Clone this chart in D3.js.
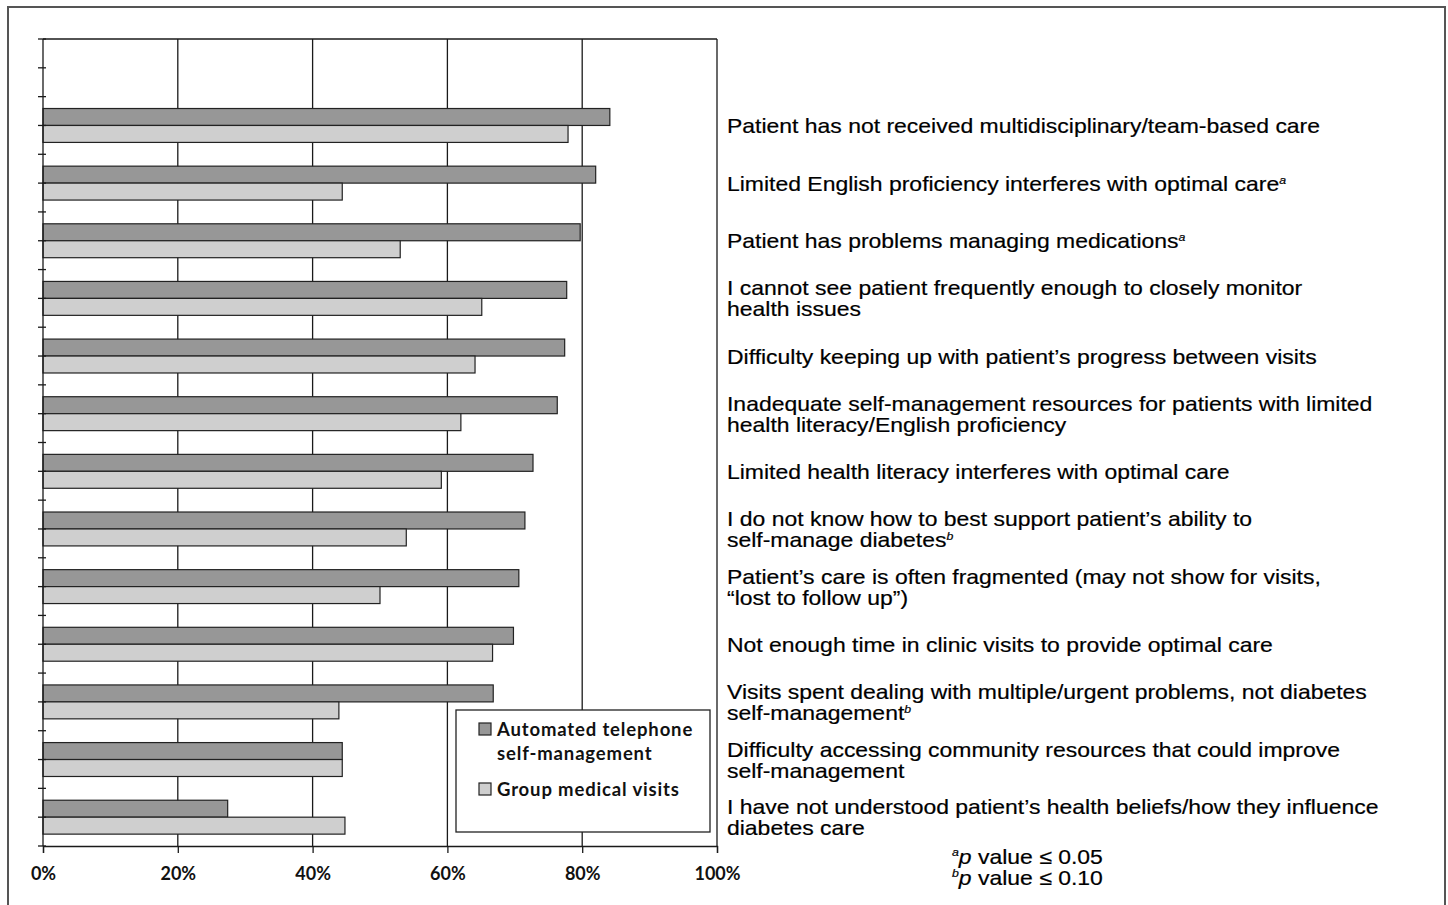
<!DOCTYPE html>
<html>
<head>
<meta charset="utf-8">
<script src="https://cdn.jsdelivr.net/npm/d3@7/dist/d3.min.js"></script>
<style>
  html, body { margin: 0; padding: 0; background: #fff; }
  svg { display: block; }
</style>
</head>
<body>
<svg id="chart" width="1448" height="905"></svg>
<script>
// Barriers to diabetes care, by intervention arm (% of clinicians)
const categories = [
  "Patient has not received multidisciplinary/team-based care",
  "Limited English proficiency interferes with optimal care",
  "Patient has problems managing medications",
  "I cannot see patient frequently enough to closely monitor\nhealth issues",
  "Difficulty keeping up with patient’s progress between visits",
  "Inadequate self-management resources for patients with limited\nhealth literacy/English proficiency",
  "Limited health literacy interferes with optimal care",
  "I do not know how to best support patient’s ability  to\nself-manage diabetes",
  "Patient’s care is often fragmented (may not show for visits,\n“lost to follow up”)",
  "Not enough time in clinic visits to provide optimal care",
  "Visits spent dealing with multiple/urgent problems, not diabetes\nself-management",
  "Difficulty accessing community resources that could improve\nself-management",
  "I have not understood patient’s health beliefs/how they influence\ndiabetes care"
];
// significance markers appended to each label
const footnoteMarks = ["", "a", "a", "", "", "", "", "b", "", "", "b", "", ""];

const seriesNames = ["Automated telephone\nself-management", "Group medical visits"];
const automatedTelephone = [84.1, 82.0, 79.7, 77.7, 77.4, 76.3, 72.7, 71.5, 70.6, 69.8, 66.8, 44.4, 27.4];
const groupMedicalVisits = [77.9, 44.4, 53.0, 65.1, 64.1, 62.0, 59.1, 53.9, 50.0, 66.7, 43.9, 44.4, 44.8];

const xTicks = [0, 20, 40, 60, 80, 100];
const footnotes = [
  { mark: "a", text: " value ≤ 0.05" },
  { mark: "b", text: " value ≤ 0.10" }
];

const svg = d3.select("#chart");
const colors = ["#979797", "#cfcfcf"];

// outer frame
svg.append("rect")
  .attr("x", 8).attr("y", 7).attr("width", 1437).attr("height", 920)
  .attr("fill", "none").attr("stroke", "#555").attr("stroke-width", 2);

const plot = { left: 43, right: 717, top: 39, bottom: 846 };

const x = d3.scaleLinear().domain([0, 100]).range([plot.left, plot.right]);

// an empty slot sits above the first category
const slots = ["__blank__"].concat(categories);
const y = d3.scaleBand().domain(slots).range([plot.top, plot.bottom]).paddingInner(0).paddingOuter(0);
const ySeries = d3.scaleBand().domain([0, 1]).range([0, y.bandwidth()]).paddingInner(0).paddingOuter(0.7);

const g = svg.append("g");

// vertical gridlines
g.selectAll("line.grid")
  .data(xTicks.slice(1))
  .join("line")
  .attr("class", "grid")
  .attr("x1", d => x(d)).attr("x2", d => x(d))
  .attr("y1", plot.top).attr("y2", plot.bottom)
  .attr("stroke", "#1a1a1a").attr("stroke-width", 1.3);

// top border of plot
g.append("line")
  .attr("x1", plot.left).attr("x2", plot.right)
  .attr("y1", plot.top).attr("y2", plot.top)
  .attr("stroke", "#1a1a1a").attr("stroke-width", 1.3);

// bars
const rows = categories.map((c, i) => ({ c, vals: [automatedTelephone[i], groupMedicalVisits[i]] }));
const rowG = g.selectAll("g.row")
  .data(rows)
  .join("g")
  .attr("class", "row")
  .attr("transform", d => `translate(0,${y(d.c)})`);

rowG.selectAll("rect")
  .data(d => d.vals.map((v, s) => ({ v, s })))
  .join("rect")
  .attr("x", x(0))
  .attr("y", d => ySeries(d.s))
  .attr("width", d => x(d.v) - x(0))
  .attr("height", ySeries.bandwidth())
  .attr("fill", d => colors[d.s])
  .attr("stroke", "#222")
  .attr("stroke-width", 1.2);

// y axis: ticks at every band edge and centre
const yTickPos = [];
slots.forEach(s => { yTickPos.push(y(s)); yTickPos.push(y(s) + y.bandwidth() / 2); });
yTickPos.push(plot.bottom);
g.append("line")
  .attr("x1", plot.left).attr("x2", plot.left)
  .attr("y1", plot.top).attr("y2", plot.bottom)
  .attr("stroke", "#1a1a1a").attr("stroke-width", 1.3);
g.selectAll("line.ytick")
  .data(yTickPos)
  .join("line")
  .attr("class", "ytick")
  .attr("x1", plot.left - 5).attr("x2", plot.left + 3)
  .attr("y1", d => d).attr("y2", d => d)
  .attr("stroke", "#1a1a1a").attr("stroke-width", 1.3);

// x axis
const xAxis = d3.axisBottom(x)
  .tickValues(xTicks)
  .tickFormat(d => d + "%")
  .tickSize(7)
  .tickPadding(14);
const xg = svg.append("g")
  .attr("transform", `translate(0,${plot.bottom})`)
  .call(xAxis);
xg.select(".domain").attr("stroke", "#1a1a1a").attr("stroke-width", 1.3);
xg.selectAll(".tick line").attr("stroke", "#1a1a1a").attr("stroke-width", 1.3);
xg.selectAll(".tick text")
  .attr("font-family", "Lato, 'Open Sans', sans-serif")
  .attr("font-weight", 700)
  .attr("font-size", 18)
  .attr("fill", "#111");

// category labels on the right (set slightly wide)
const labelFont = "'Liberation Sans', Arial, Helvetica, sans-serif";
const wide = 1.12;
const labelG = svg.append("g")
  .attr("font-family", labelFont)
  .attr("font-size", 20.5)
  .attr("fill", "#000")
  .attr("stroke", "#000")
  .attr("stroke-width", 0.2);
categories.forEach((c, i) => {
  const lines = c.split("\n");
  const cy = y(c) + y.bandwidth() / 2;
  const lh = 21;
  const t = labelG.append("text")
    .attr("transform", `translate(727,${cy - (lines.length - 1) * lh / 2}) scale(${wide},1)`)
    .attr("dominant-baseline", "central");
  lines.forEach((ln, k) => {
    t.append("tspan")
      .attr("x", 0)
      .attr("dy", k === 0 ? 0 : lh)
      .text(ln);
  });
  if (footnoteMarks[i]) {
    t.append("tspan")
      .attr("font-size", 11)
      .attr("font-style", "italic")
      .attr("dy", -4)
      .text(footnoteMarks[i]);
  }
});

// legend
const lg = svg.append("g");
lg.append("rect")
  .attr("x", 456).attr("y", 710).attr("width", 254).attr("height", 122)
  .attr("fill", "#fff").attr("stroke", "#222").attr("stroke-width", 1.3);
const legendItems = [
  { name: seriesNames[0], cy: 729, color: colors[0] },
  { name: seriesNames[1], cy: 789, color: colors[1] }
];
legendItems.forEach(item => {
  lg.append("rect")
    .attr("x", 479).attr("y", item.cy - 6).attr("width", 12).attr("height", 12)
    .attr("fill", item.color).attr("stroke", "#222").attr("stroke-width", 1.2);
  const t = lg.append("text")
    .attr("font-family", "Lato, 'Open Sans', sans-serif")
    .attr("font-weight", 700)
    .attr("font-size", 18.5)
    .attr("letter-spacing", 0.85)
    .attr("fill", "#111")
    .attr("dominant-baseline", "central");
  item.name.split("\n").forEach((ln, k) => {
    t.append("tspan").attr("x", 497).attr("y", item.cy + k * 24).text(ln);
  });
});

// footnotes
const fg = svg.append("g")
  .attr("font-family", labelFont)
  .attr("font-size", 20.5)
  .attr("fill", "#000")
  .attr("stroke", "#000")
  .attr("stroke-width", 0.2);
footnotes.forEach((f, i) => {
  const t = fg.append("text")
    .attr("transform", `translate(952,${856 + i * 21}) scale(${wide},1)`)
    .attr("dominant-baseline", "central");
  t.append("tspan").attr("font-size", 11).attr("font-style", "italic").attr("dy", -5).text(f.mark);
  t.append("tspan").attr("font-style", "italic").attr("dy", 5).text("p");
  t.append("tspan").text(f.text);
});
</script>
</body>
</html>
